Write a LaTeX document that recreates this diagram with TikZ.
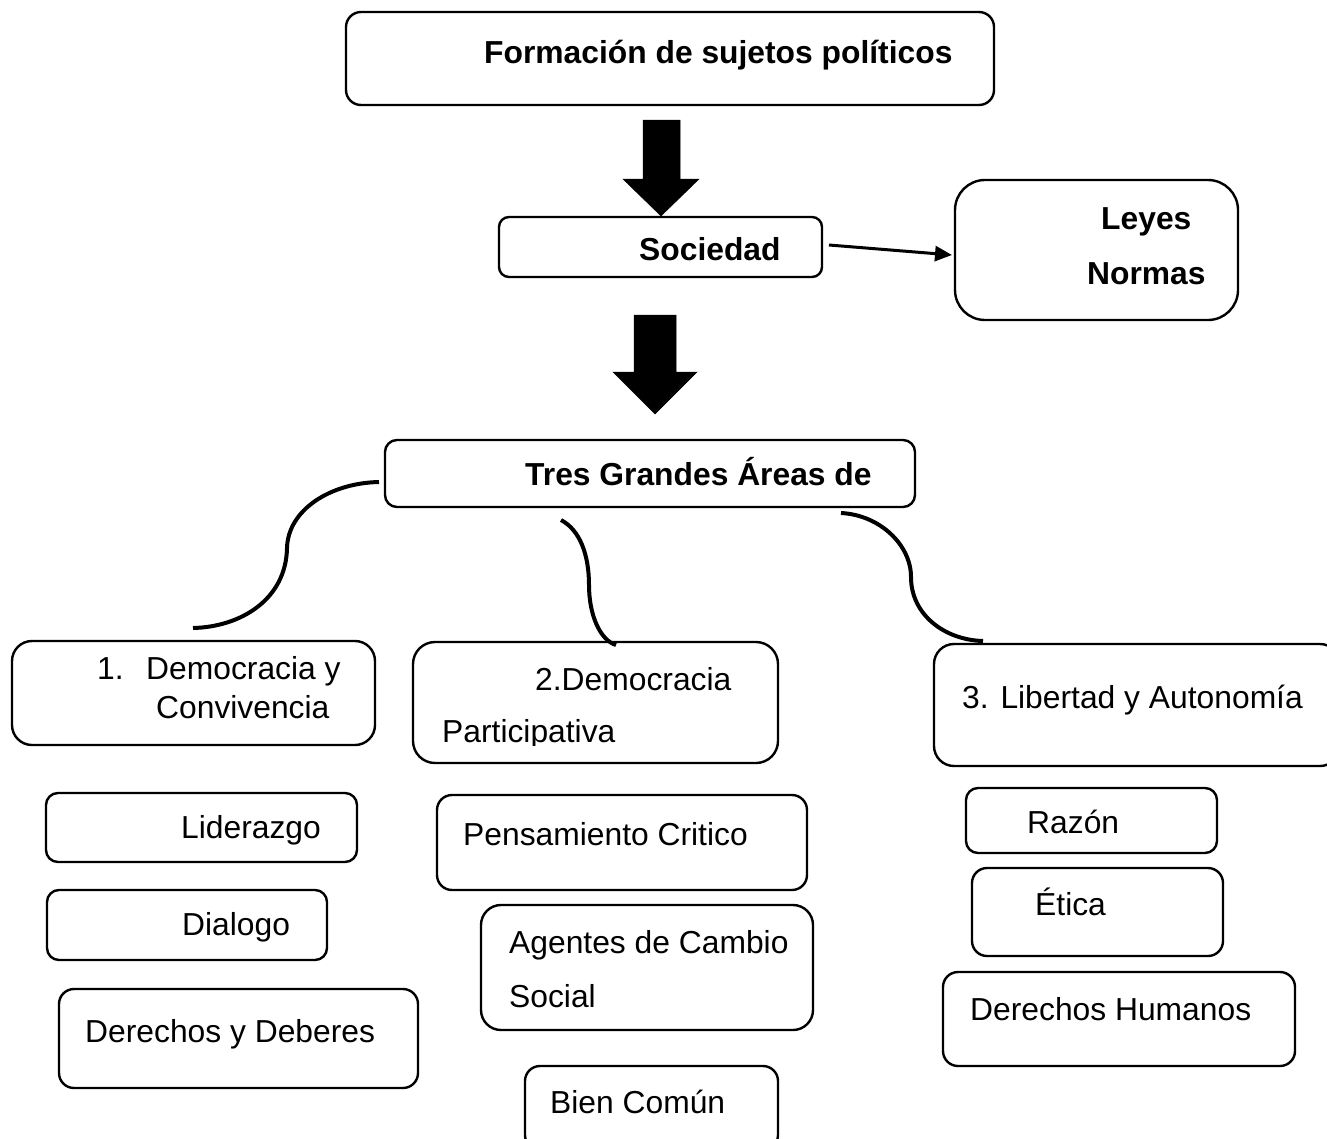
\documentclass[tikz,border=0pt]{standalone}
\usepackage{fontspec}
\setmainfont{Liberation Sans}
\usetikzlibrary{arrows.meta}

\tikzset{
  box/.style={draw, line width=2.4pt, rounded corners=#1, inner sep=0pt, outer sep=0pt},
  box/.default=14pt,
  lbl/.style={anchor=base west, inner sep=0pt, font=\fontsize{31.8}{36}\selectfont},
  blbl/.style={lbl, font=\fontsize{31.8}{36}\selectfont\bfseries},
  branch/.style={line width=4pt},
  blockarrow/.style={fill=black, draw=black, line width=0.5pt},
  link/.style={line width=3pt, -{Triangle[length=17pt,width=15pt]}},
}

\begin{document}
\begin{tikzpicture}[x=1pt, y=-1pt]
\useasboundingbox (0,0) rectangle (1327,1138);
\clip (0,0) rectangle (1327,1138);

% main boxes
\node[box=15pt, minimum width=648pt, minimum height=93pt] (form) at (670,58.5) {};
\node[box=10pt, minimum width=323pt, minimum height=60pt] (soc) at (660.5,247) {};
\node[box=30pt, minimum width=283pt, minimum height=140pt] (ley) at (1096.5,250) {};
\node[box=12pt, minimum width=530pt, minimum height=67pt] (tres) at (650,473.5) {};

% the three areas
\node[box=20pt, minimum width=363pt, minimum height=104pt] (c1) at (193.5,693) {};
\node[box=22pt, minimum width=365pt, minimum height=121pt] (c2) at (595.5,702.5) {};
\node[box=20pt, minimum width=406pt, minimum height=122pt] (c3) at (1137,705) {};

% items of each area
\node[box=12pt, minimum width=311pt, minimum height=69pt] (lid) at (201.5,827.5) {};
\node[box=12pt, minimum width=280pt, minimum height=70pt] (dia) at (187,925) {};
\node[box=15pt, minimum width=359pt, minimum height=99pt] (dyd) at (238.5,1038.5) {};
\node[box=15pt, minimum width=370pt, minimum height=95pt] (pen) at (622,842.5) {};
\node[box=20pt, minimum width=332pt, minimum height=125pt] (age) at (647,967.5) {};
\node[box=15pt, minimum width=253pt, minimum height=84pt] (bien) at (651.5,1108) {};
\node[box=12pt, minimum width=251pt, minimum height=65pt] (raz) at (1091.5,820.5) {};
\node[box=15pt, minimum width=251pt, minimum height=88pt] (eti) at (1097.5,912) {};
\node[box=15pt, minimum width=352pt, minimum height=94pt] (dh) at (1119,1019) {};

% texts
\node[blbl] (t-form) at (484,63) {Formación de sujetos políticos};
\node[blbl] (t-soc) at (639,260) {Sociedad};
\node[blbl] (t-ley1) at (1101,229) {Leyes};
\node[blbl] (t-ley2) at (1087,284) {Normas};
\node[blbl] (t-tres) at (525,485) {Tres Grandes Áreas de};

\node[lbl] (t-c1n) at (97,679) {1.};
\node[lbl] (t-c1a) at (146,679) {Democracia y};
\node[lbl] (t-c1b) at (156,718) {Convivencia};
\node[lbl] (t-c2a) at (535,690) {2.Democracia};
\begin{scope}
  \clip (413,600) rectangle (778,745);
  \node[lbl] (t-c2b) at (442,742) {Participativa};
\end{scope}
\node[lbl] (t-c3) at (962,708) {3. Libertad y Autonomía};

\node[lbl] (t-lid) at (181,838) {Liderazgo};
\node[lbl] (t-dia) at (182,935) {Dialogo};
\node[lbl] (t-dyd) at (85,1042) {Derechos y Deberes};
\node[lbl] (t-pen) at (463,845) {Pensamiento Critico};
\node[lbl] (t-age1) at (509,953) {Agentes de Cambio};
\node[lbl] (t-age2) at (509,1007) {Social};
\node[lbl] (t-bien) at (550,1113) {Bien Común};
\node[lbl] (t-raz) at (1027,833) {Razón};
\node[lbl] (t-eti) at (1035,915) {Ética};
\node[lbl] (t-dh) at (970,1020) {Derechos Humanos};

% block arrows
\draw[blockarrow] (643,120) -- (680,120) -- (680,179) -- (699,179) -- (661,216)
  -- (623,179) -- (643,179) -- cycle;
\draw[blockarrow] (634,315) -- (676,315) -- (676,372) -- (697,372) -- (655,414)
  -- (613,372) -- (634,372) -- cycle;

% Sociedad -> Leyes / Normas
\draw[link] ([xshift=7pt,yshift=2pt]soc.east) -- ([xshift=-3pt,yshift=-5pt]ley.west);

% branches from the central box
\coordinate (l0) at (379,482);
\coordinate (l1) at (287,548);
\coordinate (l2) at (193,628);
\draw[branch] (l0) .. controls (330,483) and (288,510) .. (l1)
  .. controls (286,600) and (240,627) .. (l2);

\coordinate (m0) at (561,520);
\coordinate (m1) at (589,585);
\coordinate (m2) at (616,645);
\draw[branch] (m0) .. controls (580,530) and (589,555) .. (m1)
  .. controls (589,615) and (600,640) .. (m2);

\coordinate (r0) at (841,513);
\coordinate (r1) at (911,577);
\coordinate (r2) at (983,641);
\draw[branch] (r0) .. controls (880,515) and (911,545) .. (r1)
  .. controls (911,615) and (945,640) .. (r2);
\end{tikzpicture}
\end{document}
